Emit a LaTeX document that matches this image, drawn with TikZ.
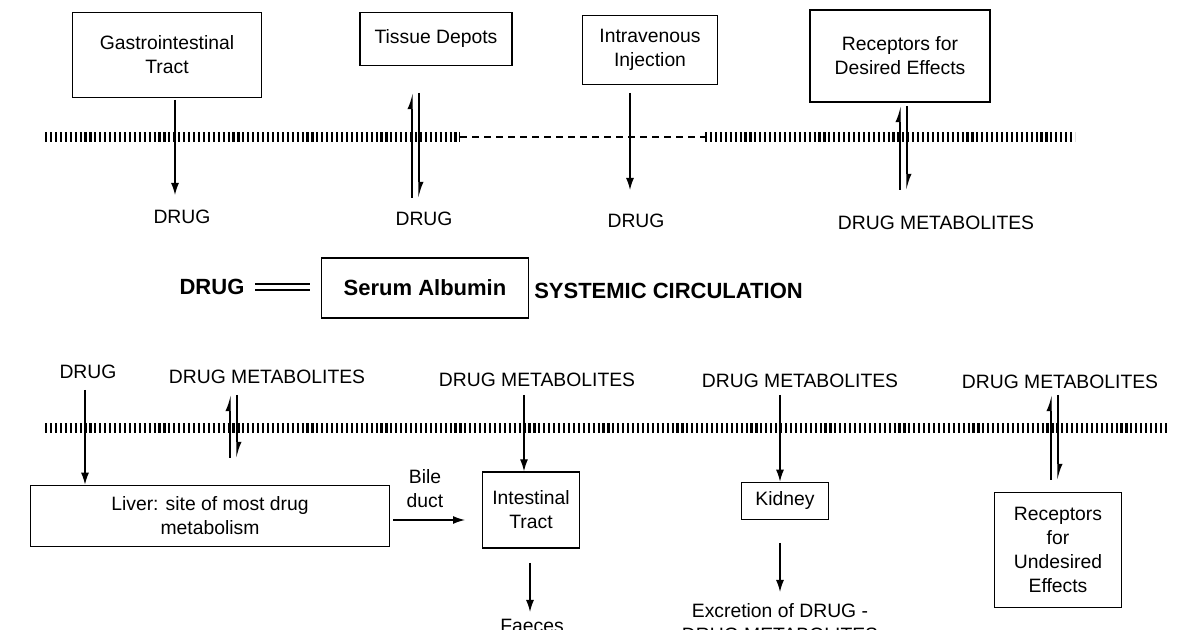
\documentclass[tikz,border=0pt]{standalone}
\usepackage{fontspec}
\setmainfont{Liberation Sans}
\usetikzlibrary{arrows.meta}
\begin{document}
\begin{tikzpicture}[x=0.75pt,y=-0.75pt,
  every node/.style={font=\fontsize{14.5}{18}\selectfont,align=center,inner sep=0pt},
  box/.style={draw,line width=1pt},
  big/.style={font=\fontsize{16.5}{19}\selectfont\bfseries},
  arr/.style={line width=1pt,-{Latex[length=9pt,width=6pt]}},
  mem/.style={line width=7pt,dash pattern=on 1.6pt off 2.1pt},
  dmem/.style={line width=1.2pt,dash pattern=on 5pt off 4pt},
  up/.style={line width=1pt,-{Latex[left,length=10pt,width=7pt]}},
  down/.style={line width=1pt,-{Latex[left,length=10pt,width=7pt]}}]
\useasboundingbox (0,0) rectangle (1200,630);
\clip (0,0) rectangle (1200,630);
% membranes
\coordinate (m1a) at (45,137); \coordinate (m1b) at (460,137);
\coordinate (m1c) at (705,137); \coordinate (m1d) at (1075,137);
\draw[mem] (m1a) -- (m1b);
\draw[dmem] (m1b) -- (m1c);
\draw[mem] (m1c) -- (m1d);
\coordinate (m2a) at (45,428); \coordinate (m2b) at (1168,428);
\draw[mem] (m2a) -- (m2b);
% top boxes
\node[box,minimum width=142pt,minimum height=64pt] (gi) at (167,55) {Gastrointestinal\\Tract};
\node[box,minimum width=114pt,minimum height=40pt] (td) at (436,39) {Tissue Depots};
\node[box,minimum width=101pt,minimum height=52pt] (iv) at (650,50) {Intravenous\\Injection};
\node[box,minimum width=135pt,minimum height=69pt] (rd) at (900,56) {Receptors for\\Desired Effects};
\node (d1) at (182,217) {DRUG};
\node (d2) at (424,219) {DRUG};
\node (d3) at (636,221) {DRUG};
\node (d4) at (936,223) {DRUG METABOLITES};
\coordinate (gi1) at (175,100); \coordinate (gi2) at (175,195);
\draw[arr] (gi1) -- (gi2);
\coordinate (ta) at (412,198); \coordinate (tb) at (412,93);
\coordinate (tc) at (419,93); \coordinate (tdd) at (419,198);
\draw[up] (ta) -- (tb); \draw[down] (tc) -- (tdd);
\coordinate (iv1) at (630,93); \coordinate (iv2) at (630,190);
\draw[arr] (iv1) -- (iv2);
\coordinate (ra) at (900,190); \coordinate (rb) at (900,106);
\coordinate (rc) at (907,106); \coordinate (rdd) at (907,190);
\draw[up] (ra) -- (rb); \draw[down] (rc) -- (rdd);
% middle
\node[big] (drug) at (212,287) {DRUG};
\node[box,minimum width=155pt,minimum height=45pt,big] (sa) at (425,288) {Serum Albumin};
\node[big,anchor=west] (sc) at (534,291) {SYSTEMIC CIRCULATION};
\coordinate (e1) at (255,284); \coordinate (e2) at (310,284);
\coordinate (e3) at (255,290); \coordinate (e4) at (310,290);
\draw[line width=1.2pt] (e1) -- (e2) (e3) -- (e4);
% bottom labels
\node (b1) at (88,372) {DRUG};
\node (b2) at (267,377) {DRUG METABOLITES};
\node (b3) at (537,380) {DRUG METABOLITES};
\node (b4) at (800,381) {DRUG METABOLITES};
\node (b5) at (1060,382) {DRUG METABOLITES};
% bottom boxes
\node[box,minimum width=269pt,minimum height=46pt] (liver) at (210,516) {Liver: site of most drug\\metabolism};
\node[box,minimum width=73pt,minimum height=57pt] (it) at (531,510) {Intestinal\\Tract};
\node[box,minimum width=65pt,minimum height=28pt] (kid) at (785,501) {Kidney};
\node[box,minimum width=95pt,minimum height=86pt] (ru) at (1058,550) {Receptors\\for\\Undesired\\Effects};
\node (bile) at (425,489) {Bile\\duct};
\node (fae) at (532,626) {Faeces};
\node (exc) at (780,623) {Excretion of DRUG -\\DRUG METABOLITES};
% bottom arrows
\draw[arr] (85,390) -- (liver.north -| 85,0);
\draw[up] (230,458) -- (230,395); \draw[down] (237,395) -- (237,458);
\draw[arr] (524,395) -- (it.north -| 524,0);
\draw[arr] (780,395) -- (kid.north -| 780,0);
\draw[up] (1051,480) -- (1051,395); \draw[down] (1058,395) -- (1058,480);
\coordinate (la) at (393,520); \coordinate (lb) at (465,520);
\draw[arr] (la) -- (lb);
\draw[arr] (530,563) -- (530,612);
\draw[arr] (780,543) -- (780,592);
\end{tikzpicture}
\end{document}
